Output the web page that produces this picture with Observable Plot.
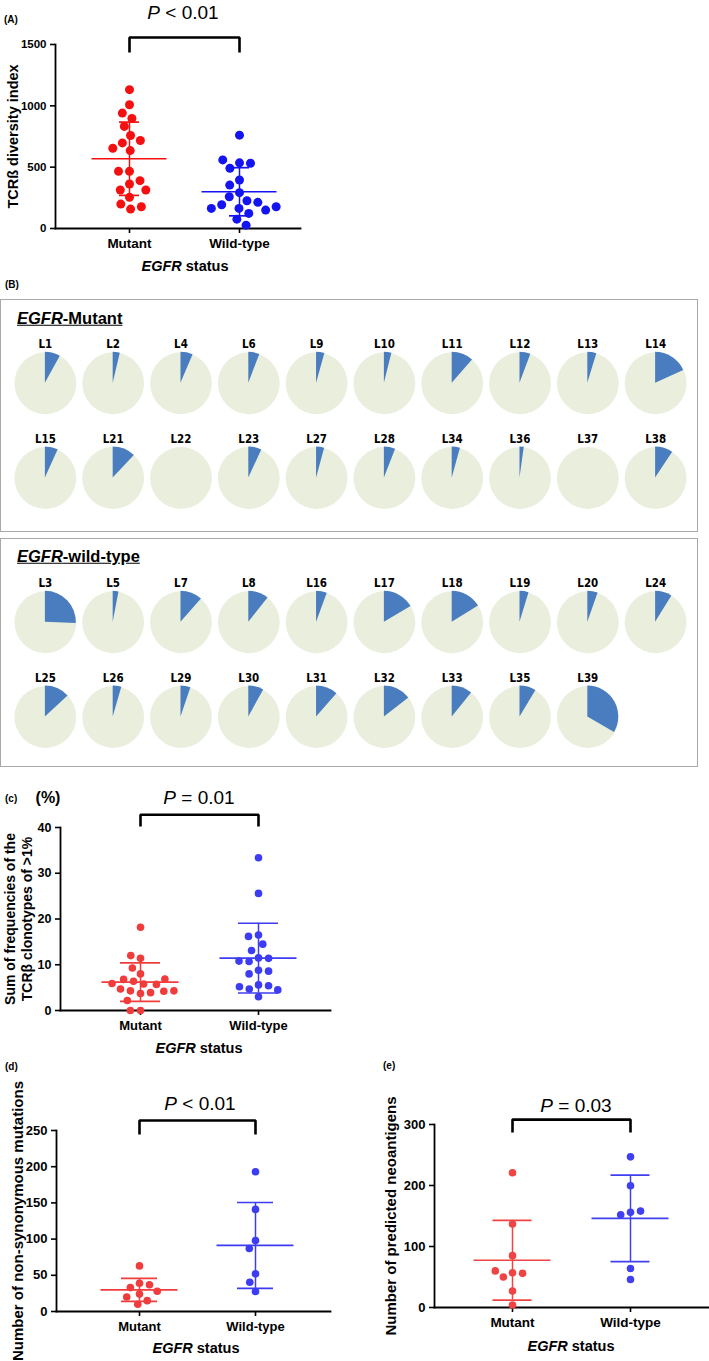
<!DOCTYPE html>
<html><head><meta charset="utf-8">
<script src="https://cdn.jsdelivr.net/npm/d3@7"></script>
<script src="https://cdn.jsdelivr.net/npm/@observablehq/plot@0.6"></script>
<style>
body{margin:0;background:#fff;}
#root{position:relative;width:709px;height:1361px;overflow:hidden;font-family:"Liberation Sans",Arial,sans-serif;color:#000;}
.t{position:absolute;white-space:nowrap;line-height:1;}
.plab{font-weight:bold;font-size:10px;}
.pval{font-size:19px;}
.status{font-weight:bold;font-size:14.5px;}
.box{position:absolute;border:1.5px solid #a9a9a9;box-sizing:border-box;}
.boxtitle{font-weight:bold;font-size:16.5px;text-decoration:underline;}
</style></head>
<body><div id="root"></div>
<script>
// ---------------- DATA ----------------
const groups = ["Mutant", "Wild-type"];

// (A) TCRβ diversity index
const diversityMutant = [1132, 1009, 941, 897, 832, 758, 698, 717, 635, 654, 466, 466, 363, 390, 314, 314, 254, 199, 158, 177];
const diversityWild = [761, 535, 491, 532, 559, 395, 354, 292, 259, 226, 213, 194, 164, 150, 123, 164, 177, 76, 27];

// (B)/(C) sum of frequencies (%) of TCRβ clonotypes >1% per patient
const mutantIds = ["L1","L2","L4","L6","L9","L10","L11","L12","L13","L14","L15","L21","L22","L23","L27","L28","L34","L36","L37","L38"];
const mutantFreq = [8.0, 3.7, 6.4, 5.8, 4.3, 3.9, 11.4, 5.7, 4.7, 18.2, 6.8, 12.0, 0, 6.9, 4.2, 5.9, 4.3, 2.2, 0, 9.3];
const wildIds = ["L3","L5","L7","L8","L16","L17","L18","L19","L20","L24","L25","L26","L29","L30","L31","L32","L33","L35","L39"];
const wildFreq = [25.6, 3.0, 11.5, 10.7, 5.6, 16.5, 16.2, 4.7, 5.4, 8.8, 13.1, 4.5, 5.2, 8.0, 11.4, 14.5, 10.8, 8.6, 33.4];

// (d) non-synonymous mutations
const mutationsMutant = [63, 39, 33, 37, 28, 24, 20, 15, 10];
const mutationsWild = [193, 141, 98, 87, 52, 40.5, 27.6];

// (e) predicted neoantigens
const neoMutant = [221, 137, 85, 57, 50, 56, 60, 27, 4];
const neoWild = [247, 199.5, 156, 152, 158, 64, 46];

// tick labels
const ticksA = [0, 500, 1000, 1500];
const ticksC = [0, 10, 20, 30, 40];
const ticksD = [0, 50, 100, 150, 200, 250];
const ticksE = [0, 100, 200, 300];

// ---------------- HELPERS ----------------
const root = document.getElementById("root");
const FONT = "'Liberation Sans', Arial, sans-serif";

function addText(html, x, y, cls, anchor = "middle", parent = root) {
  const d = document.createElement("div");
  d.className = "t " + cls;
  d.innerHTML = html;
  d.style.left = x + "px";
  d.style.top = y + "px";
  d.style.transform = anchor === "middle" ? "translate(-50%,-50%)" : "translate(0,-50%)";
  parent.appendChild(d);
  return d;
}

function scatterPanel(cfg) {
  const wrap = document.createElement("div");
  wrap.style.cssText = `position:absolute;left:${cfg.left}px;top:${cfg.top}px;width:${cfg.width}px;height:${cfg.height}px;`;
  root.appendChild(wrap);

  const pts = [
    ...cfg.mut.map(v => ({g: groups[0], v})),
    ...cfg.wild.map(v => ({g: groups[1], v}))
  ];
  const stats = groups.map((g, i) => {
    const vals = i ? cfg.wild : cfg.mut;
    const m = d3.mean(vals), s = d3.deviation(vals);
    return {g, mean: m, lo: m - s, hi: m + s};
  });
  const [lowB, topB] = cfg.bracket;
  const bracket = [
    {g: groups[0], v: lowB}, {g: groups[0], v: topB},
    {g: groups[1], v: topB}, {g: groups[1], v: lowB}
  ];
  const c = cfg.centers, step = c[1] - c[0];
  const common = {
    width: cfg.width, height: cfg.height,
    marginLeft: cfg.mL, marginRight: cfg.mR, marginTop: cfg.mT, marginBottom: cfg.mB,
    style: {background: "transparent", fontFamily: FONT, position: "absolute", left: "0px", top: "0px", overflow: "visible"}
  };

  const base = Plot.plot({
    ...common,
    x: {type: "point", domain: groups, range: c, padding: 0, axis: null},
    y: {domain: cfg.yDomain, axis: null},
    marks: [
      Plot.frame({anchor: "left", strokeWidth: 1.8}),
      Plot.frame({anchor: "bottom", strokeWidth: 1.8}),
      Plot.axisY({ticks: cfg.yTicks, tickFormat: "d", tickSize: 5, tickPadding: 4, strokeWidth: 1.6,
        fontSize: cfg.tickFont, fontWeight: "bold", label: null}),
      Plot.axisX({tickSize: 5, tickPadding: 5, strokeWidth: 1.6,
        fontSize: cfg.catFont, fontWeight: "bold", label: null}),
      Plot.text([cfg.yLabel], {frameAnchor: "left", textAnchor: "middle", lineAnchor: "middle", rotate: -90, dx: -cfg.yLabelOffset,
        fontSize: cfg.yLabelFont, fontWeight: "bold", lineHeight: 1.2}),
      Plot.line(bracket, {x: "g", y: "v", stroke: "black", strokeWidth: 2.6,
        strokeLinejoin: "miter", strokeLinecap: "butt"})
    ]
  });
  wrap.appendChild(base);

  const mi = (step - cfg.meanW) / 2, ci = (step - cfg.capW) / 2;
  const dots = Plot.plot({
    ...common,
    fx: {domain: groups, range: [c[0] - step / 2, c[1] + step / 2], padding: 0, round: false, axis: null, label: null},
    y: {domain: cfg.yDomain, axis: null},
    color: {domain: groups, range: cfg.colors},
    marks: [
      Plot.dot(pts, Plot.dodgeX({anchor: "middle", padding: cfg.pad}, {fx: "g", y: "v", r: cfg.r, fill: "g"})),
      Plot.ruleX(stats, {fx: "g", x: null, y1: "lo", y2: "hi", stroke: "g", strokeWidth: 1.5}),
      Plot.tickY(stats, {fx: "g", y: "mean", stroke: "g", strokeWidth: 1.7, insetLeft: mi, insetRight: mi}),
      Plot.tickY(stats, {fx: "g", y: "lo", stroke: "g", strokeWidth: 1.7, insetLeft: ci, insetRight: ci}),
      Plot.tickY(stats, {fx: "g", y: "hi", stroke: "g", strokeWidth: 1.7, insetLeft: ci, insetRight: ci})
    ]
  });
  wrap.appendChild(dots);
}

function piePanel(ids, freqs, top, height, titleHtml, titleY) {
  const box = document.createElement("div");
  box.className = "box";
  box.style.cssText += `left:0px;top:${top}px;width:698px;height:${height}px;`;
  root.appendChild(box);
  const data = ids.map((id, i) => ({id, col: i % 10, row: Math.floor(i / 10), freq: freqs[i]}));
  const R = 31;
  const wedge = "#4a7dbf";
  const svg = Plot.plot({
    width: 698, height,
    marginLeft: 42, marginRight: 38, marginTop: 84, marginBottom: height - 84 - 95,
    style: {background: "transparent", position: "absolute", left: "-1.5px", top: "-1.5px", overflow: "visible"},
    x: {type: "point", domain: d3.range(10), padding: 0, axis: null},
    y: {type: "point", domain: [0, 1], padding: 0, axis: null},
    marks: [
      Plot.dot(data, {x: "col", y: "row", r: R, fill: "#e9eedd"}),
      Plot.dot(data, {x: "col", y: "row", r: R, fill: wedge,
        render(index, scales, values) {
          const g = d3.create("svg:g");
          const arc = d3.arc().innerRadius(0).outerRadius(R);
          for (const i of index) {
            const f = data[i].freq / 100;
            if (!(f > 0)) continue;
            g.append("path")
              .attr("transform", `translate(${values.x[i]},${values.y[i]})`)
              .attr("d", arc({startAngle: 0, endAngle: 2 * Math.PI * f}))
              .attr("fill", wedge);
          }
          return g.node();
        }}),
      Plot.text(data, {x: "col", y: "row", text: "id", dy: -39, fontSize: 11.5, fontWeight: "bold",
        fontFamily: "'Liberation Sans Narrow', 'DejaVu Sans Condensed', 'Liberation Sans', sans-serif"})
    ]
  });
  box.appendChild(svg);
  addText(titleHtml, 16, titleY, "boxtitle", "start", box);
}

// ---------------- PANEL A ----------------
addText("(A)", 4, 20, "plab", "start");
addText("<i>P</i> &lt; 0.01", 183, 12, "pval");
scatterPanel({
  left: 0, top: 0, width: 305, height: 255, mL: 55, mR: 5, mT: 44, mB: 27,
  centers: [129, 239], yDomain: [0, 1500], yTicks: ticksA,
  mut: diversityMutant, wild: diversityWild, colors: ["#f41010", "#1414f2"],
  bracket: [1435, 1557], r: 4.5, pad: 2, meanW: 75, capW: 20,
  tickFont: 11.5, catFont: 13.5, yLabel: "TCRß diversity index", yLabelOffset: 43, yLabelFont: 14.5
});
addText("<i>EGFR</i> status", 185, 266, "status");

// ---------------- PANEL B ----------------
addText("(B)", 5, 285, "plab", "start");
piePanel(mutantIds, mutantFreq, 299, 233, "<i>EGFR</i>-Mutant", 18);
piePanel(wildIds, wildFreq, 538, 229, "<i>EGFR</i>-wild-type", 17);

// ---------------- PANEL C ----------------
addText("(c)", 5, 799, "plab", "start");
addText("(%)", 48, 798, "", "middle").style.cssText += "font-weight:bold;font-size:16px;";
addText("<i>P</i> = 0.01", 199, 797, "pval");
scatterPanel({
  left: 0, top: 780, width: 335, height: 260, mL: 60, mR: 5, mT: 47, mB: 30,
  centers: [140, 258], yDomain: [0, 40], yTicks: ticksC,
  mut: mutantFreq, wild: wildFreq, colors: ["#f03c3c", "#3c3cf2"],
  bracket: [40.2, 42.8], r: 3.8, pad: 2.5, meanW: 77, capW: 40,
  tickFont: 12.5, catFont: 13, yLabel: "Sum of frequencies of the\nTCRβ clonotypes of >1%", yLabelOffset: 42, yLabelFont: 14
});
addText("<i>EGFR</i> status", 199, 1048, "status");

// ---------------- PANEL D ----------------
addText("(d)", 5, 1067, "plab", "start");
addText("<i>P</i> &lt; 0.01", 200, 1103, "pval");
scatterPanel({
  left: 0, top: 1080, width: 335, height: 260, mL: 56, mR: 5, mT: 50, mB: 29,
  centers: [139, 255], yDomain: [0, 250], yTicks: ticksD,
  mut: mutationsMutant, wild: mutationsWild, colors: ["#f03c3c", "#3c3cf2"],
  bracket: [244.5, 263.8], r: 3.8, pad: 2.5, meanW: 77, capW: 36,
  tickFont: 13, catFont: 13, yLabel: "Number of non-synonymous mutations", yLabelOffset: 39, yLabelFont: 15
});
addText("<i>EGFR</i> status", 196, 1348, "status");

// ---------------- PANEL E ----------------
addText("(e)", 383, 1066, "plab", "start");
addText("<i>P</i> = 0.03", 576, 1105, "pval");
scatterPanel({
  left: 340, top: 1080, width: 369, height: 260, mL: 94, mR: 0, mT: 44, mB: 33,
  centers: [172, 290], yDomain: [0, 300], yTicks: ticksE,
  mut: neoMutant, wild: neoWild, colors: ["#f04444", "#4040f0"],
  bracket: [287, 308], r: 3.8, pad: 2.5, meanW: 77, capW: 39,
  tickFont: 13, catFont: 13.5, yLabel: "Number of predicted neoantigens", yLabelOffset: 44, yLabelFont: 15
});
addText("<i>EGFR</i> status", 571, 1346, "status");
</script>
</body></html>
